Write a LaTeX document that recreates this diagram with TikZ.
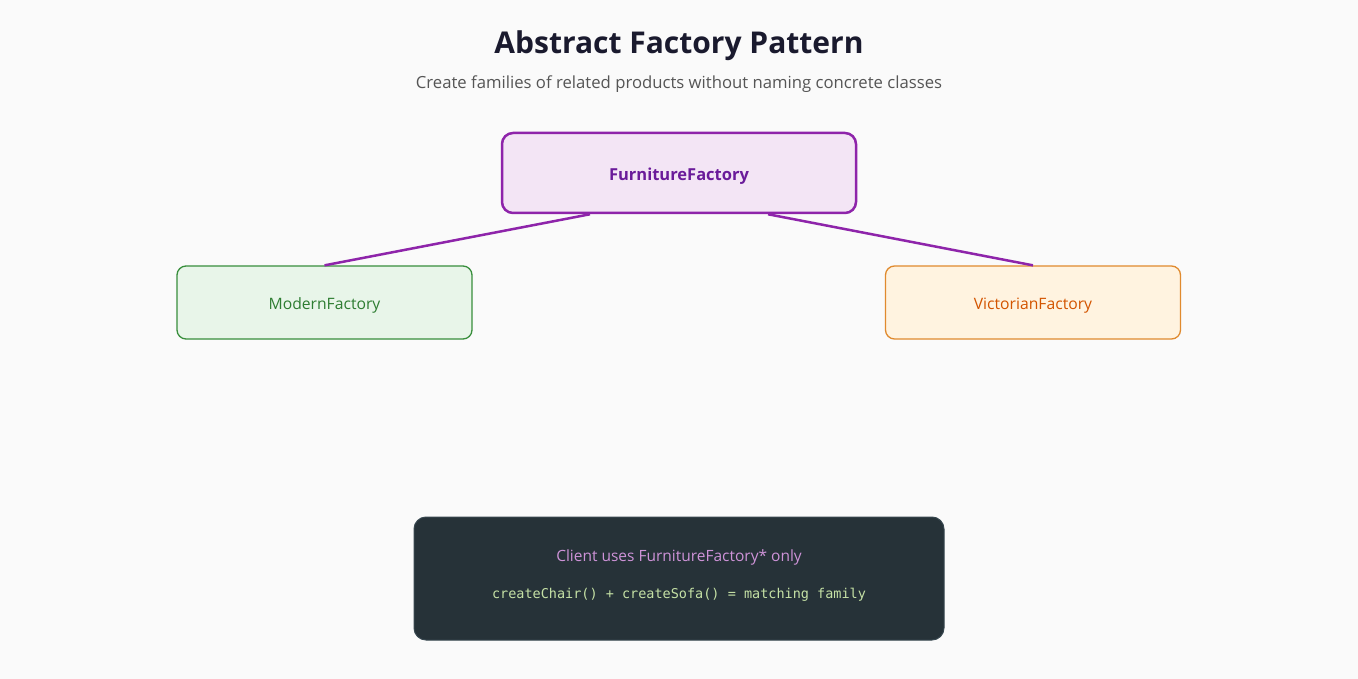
\documentclass[tikz,border=0pt]{standalone}
\usepackage{fontspec}
\setmainfont{Open Sans}
\setsansfont{Open Sans}
\setmonofont{DejaVu Sans Mono}
\definecolor{bg}{HTML}{FAFAFA}
\definecolor{titlec}{HTML}{1A1A2E}
\definecolor{subc}{HTML}{555555}
\definecolor{pfill}{HTML}{F3E5F5}
\definecolor{pdraw}{HTML}{8E24AA}
\definecolor{ptext}{HTML}{6A1B9A}
\definecolor{gfill}{HTML}{E8F5E9}
\definecolor{gdraw}{HTML}{388E3C}
\definecolor{gtext}{HTML}{2E7D32}
\definecolor{ofill}{HTML}{FFF3E0}
\definecolor{odraw}{HTML}{E08A2E}
\definecolor{otext}{HTML}{D35400}
\definecolor{cfill}{HTML}{263238}
\definecolor{cdraw}{HTML}{37474F}
\definecolor{ctext1}{HTML}{CE93D8}
\definecolor{ctext2}{HTML}{C5E1A5}
\tikzset{
  box/.style={rounded corners=9pt, minimum width=295pt, minimum height=73pt, inner sep=0pt, text height=16pt, text depth=1.2pt, font=\fontsize{15.7}{19}\selectfont},
  conn/.style={draw=pdraw, line width=2.5pt},
}
\begin{document}
\begin{tikzpicture}[x=1pt,y=-1pt]
\fill[bg] (0,0) rectangle (1358,679);
\useasboundingbox (0,0) rectangle (1358,679);
\node[text=titlec, font=\fontsize{30}{36}\selectfont\bfseries] (title) at (679,45.5) {Abstract Factory Pattern};
\node[text=subc, font=\fontsize{16.7}{20}\selectfont] (sub) at (679,84) {Create families of related products without naming concrete classes};
\node[box, fill=pfill, draw=pdraw, line width=2.5pt, minimum width=354pt, minimum height=80pt, rounded corners=11pt, text=ptext, font=\fontsize{16.5}{20}\selectfont\bfseries] (ff) at (679,173) {FurnitureFactory};
\node[box, fill=gfill, draw=gdraw, line width=1.3pt, text=gtext] (mf) at (324.5,302.5) {ModernFactory};
\node[box, fill=ofill, draw=odraw, line width=1.3pt, text=otext] (vf) at (1033,302.5) {VictorianFactory};
\draw[conn] ([xshift=-89pt]ff.south) -- (mf.north);
\draw[conn] ([xshift=89pt]ff.south) -- (vf.north);
\node[fill=cfill, draw=cdraw, line width=1pt, rounded corners=12pt, minimum width=530pt, minimum height=123pt, inner sep=0pt] (client) at (679,578.5) {};
\node[text=ctext1, font=\fontsize{15.5}{19}\selectfont] (c1) at (679,557.5) {Client uses FurnitureFactory* only};
\node[text=ctext2, font=\ttfamily\fontsize{13.5}{16}\selectfont] (c2) at (679,595) {createChair() + createSofa() = matching family};
\end{tikzpicture}
\end{document}
